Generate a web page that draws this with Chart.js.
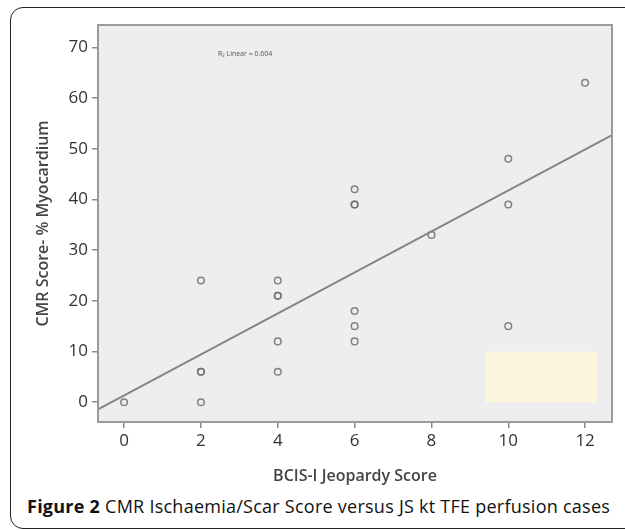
<!DOCTYPE html>
<html>
<head>
  <title>CMR Score versus BCIS-I Jeopardy Score</title>
  <script src="https://cdn.jsdelivr.net/npm/chart.js"></script>
  <style>
    body {
      margin: 0;
      width: 625px;
      height: 530px;
      overflow: hidden;
      background: #fff;
      position: relative;
      font-family: "Open Sans", sans-serif;
    }
    .frame {
      position: absolute;
      left: 10px;
      top: 7px;
      width: 660px;
      height: 520px;
      border: 1.5px solid #222;
      border-radius: 13px;
    }
    #chart {
      position: absolute;
      left: 0;
      top: 0;
    }
    .caption {
      position: absolute;
      left: 27px;
      top: 494px;
      font-size: 18px;
      letter-spacing: 0.25px;
      color: #111;
      white-space: nowrap;
    }
    .caption b { font-weight: 700; }
  </style>
</head>
<body>
  <div class="frame"></div>
  <canvas id="chart" width="625" height="490"></canvas>
  <div class="caption"><b>Figure 2</b> CMR Ischaemia/Scar Score versus JS kt TFE perfusion cases</div>

  <script>
    // BCIS-I jeopardy score (x) and CMR score % myocardium (y)
    const jeopardyScore = [0, 2, 2, 2, 2, 4, 4, 4, 4, 4, 6, 6, 6, 6, 6, 6, 8, 10, 10, 10, 12];
    const cmrScore      = [0, 24, 6, 6, 0, 24, 21, 21, 12, 6, 42, 39, 39, 18, 15, 12, 33, 48, 39, 15, 63];

    const xTicks = [0, 2, 4, 6, 8, 10, 12];
    const yTicks = [0, 10, 20, 30, 40, 50, 60, 70];

    const xRange = [-0.68, 12.7];
    const yRange = [-3.9, 74.4];

    // linear fit as drawn in the figure
    const fitSlope = 4.04;
    const fitIntercept = 1.35;
    const fitLabel = 'R\u2082 Linear = 0.604';
    const fitLabelAt = [3.15, 68.6];

    // empty legend box left in the original figure (data units)
    const legendBox = { x0: 9.4, x1: 12.3, y0: 0, y1: 10 };

    const points = jeopardyScore.map((x, i) => ({ x: x, y: cmrScore[i] }));
    const fitLine = xRange.map(x => ({ x: x, y: fitIntercept + fitSlope * x }));

    const plotDecor = {
      id: 'plotDecor',
      beforeDatasetsDraw(chart) {
        const { ctx, chartArea: a, scales } = chart;
        ctx.save();
        ctx.fillStyle = '#eeeeee';
        ctx.fillRect(a.left, a.top, a.right - a.left, a.bottom - a.top);
        const bx = scales.x.getPixelForValue(legendBox.x0);
        const bx2 = scales.x.getPixelForValue(legendBox.x1);
        const by = scales.y.getPixelForValue(legendBox.y1);
        const by2 = scales.y.getPixelForValue(legendBox.y0);
        ctx.fillStyle = '#fcf7dc';
        ctx.fillRect(bx, by, bx2 - bx, by2 - by);
        ctx.fillStyle = '#555';
        ctx.font = '7px "Open Sans", sans-serif';
        ctx.textAlign = 'center';
        ctx.textBaseline = 'middle';
        ctx.fillText(fitLabel, scales.x.getPixelForValue(fitLabelAt[0]), scales.y.getPixelForValue(fitLabelAt[1]));
        ctx.restore();
      },
      afterDatasetsDraw(chart) {
        const { ctx, chartArea: a } = chart;
        ctx.save();
        ctx.strokeStyle = '#9a9a9a';
        ctx.lineWidth = 2;
        ctx.strokeRect(a.left, a.top, a.right - a.left, a.bottom - a.top);
        ctx.restore();
      }
    };

    new Chart(document.getElementById('chart'), {
      type: 'scatter',
      data: {
        datasets: [
          {
            type: 'line',
            data: fitLine,
            borderColor: '#858585',
            borderWidth: 2,
            pointRadius: 0,
            fill: false
          },
          {
            data: points,
            pointRadius: 3.3,
            pointBorderWidth: 1.5,
            borderColor: 'rgba(110,110,110,0.85)',
            backgroundColor: 'rgba(0,0,0,0)'
          }
        ]
      },
      options: {
        responsive: false,
        animation: false,
        devicePixelRatio: 1,
        layout: { padding: { left: 0, right: 13, top: 25, bottom: 0 } },
        plugins: {
          legend: { display: false },
          tooltip: { enabled: false }
        },
        scales: {
          x: {
            type: 'linear',
            min: xRange[0],
            max: xRange[1],
            afterBuildTicks: s => { s.ticks = xTicks.map(v => ({ value: v })); },
            afterFit: s => { s.height = 68; },
            grid: { drawOnChartArea: false, tickLength: 6, color: '#8a8a8a', lineWidth: 1.5 },
            border: { display: false },
            ticks: { padding: 3, color: '#333', font: { family: 'Open Sans', size: 17 } },
            title: {
              display: true,
              text: 'BCIS-I Jeopardy Score',
              color: '#444',
              font: { family: 'Open Sans', size: 16, weight: '600' },
              padding: { top: 0, bottom: 4 }
            }
          },
          y: {
            type: 'linear',
            min: yRange[0],
            max: yRange[1],
            afterBuildTicks: s => { s.ticks = yTicks.map(v => ({ value: v })); },
            afterFit: s => { s.width = 98; },
            grid: { drawOnChartArea: false, tickLength: 6, color: '#8a8a8a', lineWidth: 1.5 },
            border: { display: false },
            ticks: { padding: 4, color: '#333', font: { family: 'Open Sans', size: 17 } },
            title: {
              display: true,
              text: 'CMR Score- % Myocardium',
              color: '#444',
              font: { family: 'Open Sans', size: 16, weight: '600' },
              padding: { top: 34, bottom: 0 }
            }
          }
        }
      },
      plugins: [plotDecor]
    });
  </script>
</body>
</html>
